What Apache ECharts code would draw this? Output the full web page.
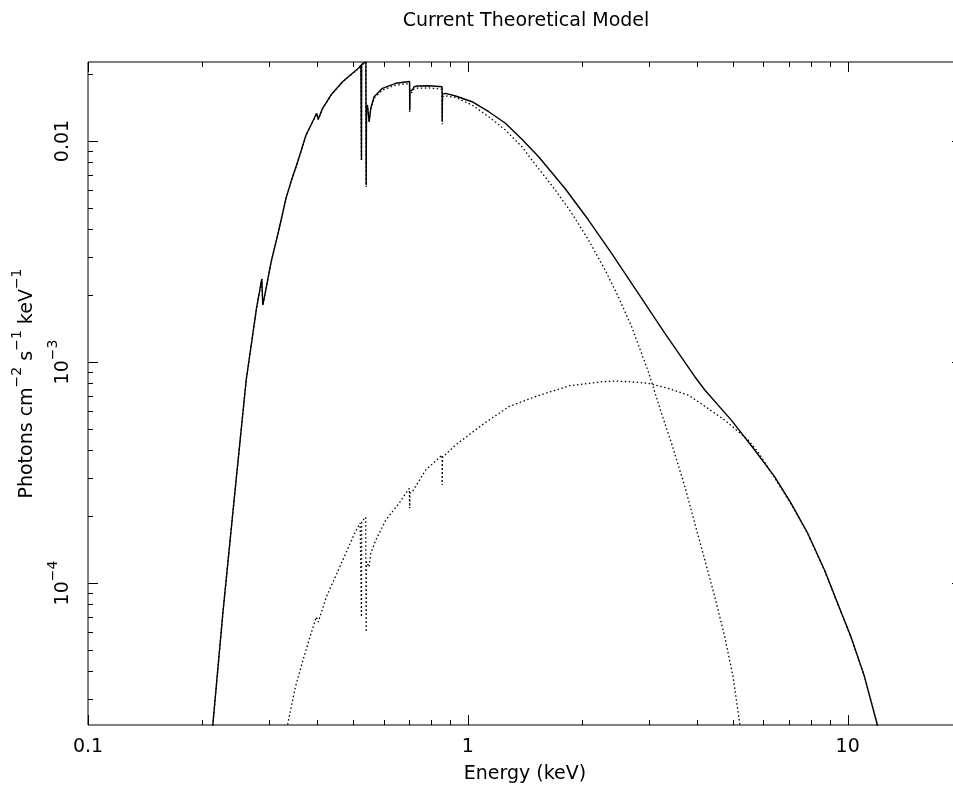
<!DOCTYPE html>
<html>
<head>
<meta charset="utf-8">
<script src="https://cdn.jsdelivr.net/npm/echarts@6/dist/echarts.min.js"></script>
<style>
html,body{margin:0;padding:0;background:#fff;}
#chart{width:953px;height:787px;}
</style>
</head>
<body>
<div id="chart"></div>
<script>
// ---- Data (Energy in keV, flux in photons cm^-2 s^-1 keV^-1) ----
const totalEnergy = [0.2103, 0.2133, 0.2265, 0.2429, 0.2609, 0.2690, 0.2777, 0.2868, 0.2885, 0.2944, 0.3035, 0.3158, 0.3321, 0.3423, 0.3565, 0.3750, 0.3942, 0.3997, 0.4039, 0.4146, 0.4361, 0.4679, 0.4969, 0.5154, 0.5229, 0.5244, 0.5248, 0.5252, 0.5300, 0.5390, 0.5400, 0.5410, 0.5441, 0.5497, 0.5553, 0.5666, 0.5958, 0.6458, 0.6931, 0.7025, 0.7031, 0.7040, 0.7144, 0.7218, 0.7359, 0.7900, 0.8555, 0.8561, 0.8575, 0.874, 0.9284, 1.026, 1.135, 1.256, 1.388, 1.536, 1.805, 2.078, 2.391, 2.811, 3.303, 3.959, 4.206, 4.940, 5.690, 6.42, 7.10, 7.85, 8.69, 9.41, 10.20, 11.06, 11.94, 12.21];
const totalFlux = [1.85e-5, 2.32e-5, 7.32e-5, 2.449e-4, 8.29e-4, 1.194e-3, 1.750e-3, 2.375e-3, 1.811e-3, 2.156e-3, 2.843e-3, 3.756e-3, 5.503e-3, 6.54e-3, 8.06e-3, 0.01064, 0.01267, 0.01335, 0.01254, 0.01406, 0.01615, 0.01855, 0.02025, 0.02133, 0.02207, 0.0222, 0.0082, 0.0222, 0.0225, 0.0228, 0.0063, 0.0140, 0.01455, 0.01223, 0.01410, 0.01587, 0.01732, 0.01825, 0.01855, 0.0186, 0.01381, 0.0168, 0.01702, 0.01761, 0.01774, 0.01779, 0.01761, 0.01223, 0.0163, 0.01644, 0.01598, 0.01506, 0.01357, 0.01203, 0.01018, 8.49e-3, 6.08e-3, 4.39e-3, 3.10e-3, 2.046e-3, 1.349e-3, 8.58e-4, 7.47e-4, 5.46e-4, 4.00e-4, 3.03e-4, 2.294e-4, 1.679e-4, 1.145e-4, 8.09e-5, 5.71e-5, 3.80e-5, 2.32e-5, 1.95e-5];

const coolEnergy = [0.2103, 0.2133, 0.2265, 0.2429, 0.2609, 0.2690, 0.2777, 0.2868, 0.2885, 0.2944, 0.3035, 0.3158, 0.3321, 0.3423, 0.3565, 0.3750, 0.3942, 0.3997, 0.4039, 0.4146, 0.4361, 0.4679, 0.4969, 0.5154, 0.5229, 0.5244, 0.5248, 0.5252, 0.5300, 0.5390, 0.5400, 0.5410, 0.5441, 0.5497, 0.5553, 0.5666, 0.5958, 0.6458, 0.6931, 0.7025, 0.7031, 0.7040, 0.7144, 0.7218, 0.7359, 0.7900, 0.8555, 0.8561, 0.8575, 0.874, 0.9284, 1.026, 1.135, 1.256, 1.388, 1.475, 1.699, 1.878, 2.078, 2.298, 2.490, 2.699, 2.987, 3.236, 3.437, 3.728, 3.959, 4.206, 4.468, 4.747, 4.992, 5.197, 5.255];
const coolFlux = [1.85e-5, 2.32e-5, 7.3e-5, 2.44e-4, 8.27e-4, 1.19e-3, 1.745e-3, 2.37e-3, 1.805e-3, 2.15e-3, 2.835e-3, 3.745e-3, 5.49e-3, 6.52e-3, 8.04e-3, 0.01061, 0.01264, 0.01331, 0.01250, 0.01402, 0.01610, 0.01850, 0.02018, 0.02125, 0.02198, 0.0221, 0.0081, 0.0221, 0.0224, 0.0227, 0.0062, 0.0139, 0.01440, 0.01210, 0.01395, 0.01565, 0.01700, 0.01790, 0.01815, 0.0182, 0.01352, 0.0165, 0.01665, 0.01722, 0.01735, 0.01738, 0.01715, 0.0119, 0.0159, 0.01600, 0.01576, 0.01455, 0.01288, 0.01121, 9.42e-3, 8.2e-3, 6.00e-3, 4.71e-3, 3.565e-3, 2.609e-3, 1.975e-3, 1.444e-3, 9.04e-4, 5.86e-4, 4.29e-4, 2.727e-4, 1.863e-4, 1.271e-4, 8.67e-5, 5.71e-5, 3.77e-5, 2.32e-5, 1.95e-5];

const hotEnergy = [0.3268, 0.3352, 0.3515, 0.3689, 0.3848, 0.3990, 0.4039, 0.4240, 0.4501, 0.4814, 0.5052, 0.5206, 0.5244, 0.5248, 0.5252, 0.5300, 0.5383, 0.5400, 0.5410, 0.5441, 0.5497, 0.5553, 0.5724, 0.6081, 0.6589, 0.7014, 0.7031, 0.7040, 0.7144, 0.7745, 0.8555, 0.8561, 0.8575, 0.9284, 1.090, 1.281, 1.505, 1.841, 2.252, 2.45, 2.646, 2.987, 3.37, 3.802, 4.039, 4.747, 5.466, 5.805, 6.42, 7.10, 7.85, 8.69, 9.41, 10.20, 11.06, 11.94, 12.21];
const hotFlux = [1.95e-5, 2.28e-5, 3.38e-5, 4.53e-5, 5.76e-5, 7.02e-5, 6.66e-5, 8.64e-5, 1.087e-4, 1.410e-4, 1.701e-4, 1.868e-4, 1.88e-4, 7.02e-5, 1.89e-4, 1.92e-4, 1.989e-4, 6.0e-5, 1.25e-4, 1.271e-4, 1.181e-4, 1.367e-4, 1.565e-4, 1.928e-4, 2.294e-4, 2.683e-4, 2.178e-4, 2.55e-4, 2.588e-4, 3.246e-4, 3.795e-4, 2.776e-4, 3.70e-4, 4.21e-4, 5.19e-4, 6.28e-4, 6.97e-4, 7.79e-4, 8.15e-4, 8.2e-4, 8.15e-4, 8.01e-4, 7.60e-4, 7.09e-4, 6.62e-4, 5.46e-4, 4.44e-4, 3.92e-4, 3.0e-4, 2.27e-4, 1.67e-4, 1.14e-4, 8.05e-5, 5.70e-5, 3.80e-5, 2.32e-5, 1.95e-5];

// ---- Axes / ticks ----
const xRange = [0.1, 20];
const yRange = [2.278e-5, 0.02278];
const xMajorTicks = [0.1, 1, 10];
const xMinorTicks = [0.2, 0.3, 0.4, 0.5, 0.6, 0.7, 0.8, 0.9, 2, 3, 4, 5, 6, 7, 8, 9, 20];
const yMajorTicks = [1e-4, 1e-3, 1e-2];
const yMinorTicks = [3e-5, 4e-5, 5e-5, 6e-5, 7e-5, 8e-5, 9e-5, 2e-4, 3e-4, 4e-4, 5e-4, 6e-4, 7e-4, 8e-4, 9e-4, 2e-3, 3e-3, 4e-3, 5e-3, 6e-3, 7e-3, 8e-3, 9e-3, 2e-2];
const xTickLabels = ['0.1', '1', '10'];
const yTickLabels = ['{n|10}{s|\u22124}', '{n|10}{s|\u22123}', '{n|0.01}'];

const FONT = 'DejaVu Sans';
const FS = 19, SFS = 14;
const zip = (a, b) => a.map((v, i) => [v, b[i]]);
const near = (v, arr) => arr.findIndex(t => Math.abs(Math.log10(v) - Math.log10(t)) < 1e-6);

function tickRenderer(isX) {
  return function (params, api) {
    const cs = params.coordSys;
    const major = api.value(2) === 1;
    const len = major ? 10 : 5;
    const st = { stroke: '#000', lineWidth: 1 };
    if (isX) {
      const x = Math.round(api.coord([api.value(0), yRange[0]])[0]) + 0.5;
      const yb = cs.y + cs.height, yt = cs.y;
      return { type: 'group', children: [
        { type: 'line', shape: { x1: x, y1: yb, x2: x, y2: yb - len }, style: st },
        { type: 'line', shape: { x1: x, y1: yt, x2: x, y2: yt + len }, style: st }
      ]};
    } else {
      const y = Math.round(api.coord([xRange[0], api.value(1)])[1]) + 0.5;
      const xl = cs.x, xr = cs.x + cs.width;
      return { type: 'group', children: [
        { type: 'line', shape: { x1: xl, y1: y, x2: xl + len, y2: y }, style: st },
        { type: 'line', shape: { x1: xr, y1: y, x2: xr - len, y2: y }, style: st }
      ]};
    }
  };
}

const xTickData = xMajorTicks.map(v => [v, yRange[0], 1]).concat(xMinorTicks.map(v => [v, yRange[0], 0]));
const yTickData = yMajorTicks.map(v => [xRange[0], v, 1]).concat(yMinorTicks.map(v => [xRange[0], v, 0]));

const richStyles = {
  n: { fontFamily: FONT, fontSize: FS, color: '#000', lineHeight: 27, verticalAlign: 'bottom' },
  s: { fontFamily: FONT, fontSize: SFS, color: '#000', lineHeight: 27, verticalAlign: 'top' }
};

const chart = echarts.init(document.getElementById('chart'), null, { renderer: 'canvas' });
chart.setOption({
  animation: false,
  backgroundColor: '#fff',
  title: {
    text: 'Current Theoretical Model',
    left: 521, top: 7, textAlign: 'center',
    textStyle: { fontFamily: FONT, fontSize: FS, fontWeight: 'normal', color: '#000' }
  },
  grid: { left: 88, top: 62, right: -9, bottom: 62, outerBoundsMode: 'none', containLabel: false,
          show: true, borderColor: '#000', borderWidth: 1, backgroundColor: 'transparent' },
  xAxis: {
    type: 'log', logBase: 10, min: xRange[0], max: xRange[1],
    name: 'Energy (keV)', nameLocation: 'middle', nameGap: 40, nameMoveOverlap: false,
    nameTextStyle: { fontFamily: FONT, fontSize: FS, color: '#000' },
    axisLine: { show: false }, axisTick: { show: false }, splitLine: { show: false },
    axisLabel: {
      margin: 13, fontFamily: FONT, fontSize: FS, color: '#000',
      showMinLabel: true, showMaxLabel: false, hideOverlap: false,
      formatter: v => { const i = near(v, xMajorTicks); return i >= 0 ? xTickLabels[i] : ''; }
    }
  },
  yAxis: {
    type: 'log', logBase: 10, min: yRange[0], max: yRange[1],
    name: '{n|Photons cm}{s|\u22122}{n| s}{s|\u22121}{n| keV}{s|\u22121}',
    nameLocation: 'middle', nameRotate: 90, nameGap: 51, nameMoveOverlap: false,
    nameTextStyle: { color: '#000', padding: [0, 0, 0, 20], rich: richStyles },
    axisLine: { show: false }, axisTick: { show: false }, splitLine: { show: false },
    axisLabel: {
      rotate: 90, margin: 15, color: '#000',
      showMinLabel: false, showMaxLabel: false, hideOverlap: false,
      formatter: v => { const i = near(v, yMajorTicks); return i >= 0 ? yTickLabels[i] : ''; },
      rich: richStyles
    }
  },
  series: [
    { type: 'custom', coordinateSystem: 'cartesian2d', silent: true, renderItem: tickRenderer(true), data: xTickData, z: 5 },
    { type: 'custom', coordinateSystem: 'cartesian2d', silent: true, renderItem: tickRenderer(false), data: yTickData, z: 5 },
    { type: 'line', data: zip(coolEnergy, coolFlux), showSymbol: false, symbol: 'none', clip: true,
      lineStyle: { color: '#000', width: 1.3, type: [1.5, 2.5] } },
    { type: 'line', data: zip(hotEnergy, hotFlux), showSymbol: false, symbol: 'none', clip: true,
      lineStyle: { color: '#000', width: 1.3, type: [1.5, 2.5] } },
    { type: 'line', data: zip(totalEnergy, totalFlux), showSymbol: false, symbol: 'none', clip: true,
      lineStyle: { color: '#000', width: 1.4 } }
  ]
});
</script>
</body>
</html>
